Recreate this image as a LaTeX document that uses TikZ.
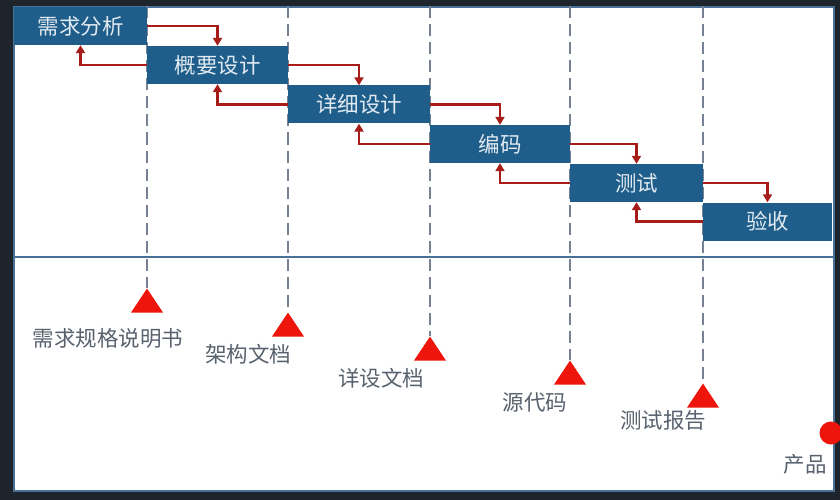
\documentclass[tikz,border=0pt]{standalone}
\usepackage{fontspec}
\setmainfont{Noto Sans CJK SC}
\usepackage{tikz}
\usetikzlibrary{arrows.meta, shapes.geometric}
\definecolor{screendark}{RGB}{30,36,44}
\definecolor{framesteel}{RGB}{72,112,150}
\definecolor{stageblue}{RGB}{31,94,138}
\definecolor{stagetext}{RGB}{225,234,242}
\definecolor{arrowred}{RGB}{165,28,24}
\definecolor{markred}{RGB}{238,22,12}
\definecolor{guidegray}{RGB}{118,130,148}
\definecolor{doctext}{RGB}{88,98,110}

\begin{document}
\begin{tikzpicture}[
  x=1pt, y=-1pt,
  stage/.style={fill=stageblue, text=stagetext, inner sep=0pt,
                minimum height=38pt, font=\fontsize{21.5}{22}\selectfont},
  doc/.style={text=doctext, inner sep=0pt, font=\fontsize{21.5}{22}\selectfont},
  marker/.style={isosceles triangle, isosceles triangle stretches,
                 shape border rotate=90, fill=markred, inner sep=0pt,
                 minimum width=32pt, minimum height=24pt},
  guide/.style={draw=guidegray, dash pattern=on 12pt off 6pt, line width=2pt},
  arr/.style={-{Triangle[length=8pt, width=9pt]}, draw=arrowred, line width=2.4pt}
]
\fill[screendark] (0,0) rectangle (840,500);
\useasboundingbox (0,0) rectangle (840,500);
\node[draw=framesteel, line width=2pt, fill=white, minimum width=820pt,
      minimum height=483pt, inner sep=0pt] (panel) at (423.5,249) {};

% deliverables of each phase
\node[marker, anchor=apex] (m1) at (147,288) {};
\node[marker, anchor=apex] (m2) at (288,312) {};
\node[marker, anchor=apex] (m3) at (430,336) {};
\node[marker, anchor=apex] (m4) at (570,360) {};
\node[marker, anchor=apex] (m5) at (703,383) {};

\draw[guide] (m1.apex |- panel.north) -- (m1.apex);
\draw[guide] (m2.apex |- panel.north) -- (m2.apex);
\draw[guide] (m3.apex |- panel.north) -- (m3.apex);
\draw[guide] (m4.apex |- panel.north) -- (m4.apex);
\draw[guide] (m5.apex |- panel.north) -- (m5.apex);

\draw[framesteel, line width=2pt] (panel.west |- 0,257) -- (panel.east |- 0,257);

% phases
\node[stage, minimum width=133pt] (req)  at (80.5,26)   {需求分析};
\node[stage, minimum width=141pt] (arch) at (217.5,65)  {概要设计};
\node[stage, minimum width=142pt] (det)  at (359,104.5) {详细设计};
\node[stage, minimum width=140pt] (code) at (500,144)   {编码};
\node[stage, minimum width=133pt] (test) at (636.5,183) {测试};
\node[stage, minimum width=129pt] (acc)  at (767.5,221.5) {验收};

\draw[arr] (req.east) -| (arch.north);
\draw[arr] (arch.east) -| (det.north);
\draw[arr] (det.east) -| (code.north);
\draw[arr] (code.east) -| (test.north);
\draw[arr] (test.east) -| (acc.north);

\draw[arr] (arch.west) -| (req.south);
\draw[arr] (det.west) -| (arch.south);
\draw[arr] (code.west) -| (det.south);
\draw[arr] (test.west) -| (code.south);
\draw[arr] (acc.west) -| (test.south);

\node[doc] (srs)  at (108,338) {需求规格说明书};
\node[doc] (adoc) at (248,354) {架构文档};
\node[doc] (ddoc) at (381,378) {详设文档};
\node[doc] (src)  at (535,402) {源代码};
\node[doc] (rep)  at (663,420) {测试报告};

\node[circle, fill=markred, minimum size=23pt, inner sep=0pt] (prod) at (831,433) {};
\node[doc] (prodlbl) at (805,464) {产品};
\end{tikzpicture}
\end{document}
